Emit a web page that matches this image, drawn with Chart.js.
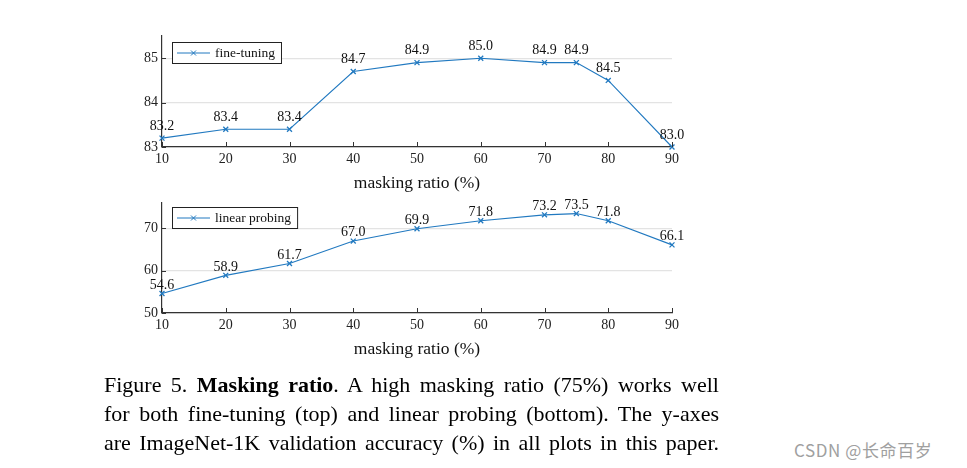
<!DOCTYPE html>
<html>
<head>
<meta charset="utf-8">
<script src="https://cdn.jsdelivr.net/npm/chart.js@4"></script>
<style>
  body { margin: 0; background: #fff; width: 967px; height: 468px; position: relative; overflow: hidden; }
  .box { position: absolute; }
  #caption {
    position: absolute; left: 104px; top: 370px; width: 615px;
    font-family: 'Liberation Serif', 'Times New Roman', serif; font-size: 22px; line-height: 29px;
    color: #000;
  }
  #caption span { display: block; text-align: justify; text-align-last: justify; }
  #mark {
    position: absolute; left: 794px; top: 437px;
    font-family: 'Noto Sans CJK SC', 'Noto Sans', sans-serif; font-size: 17px; letter-spacing: 0.6px; color: #a0a0a0;
  }
</style>
</head>
<body>
<div class="box" style="left:100px;top:20px;width:600px;height:180px"><canvas id="top"></canvas></div>
<div class="box" style="left:100px;top:190px;width:600px;height:175px"><canvas id="bottom"></canvas></div>
<div id="caption"><span>Figure 5. <b>Masking ratio</b>. A high masking ratio (75%) works well</span><span>for both fine-tuning (top) and linear probing (bottom). The y-axes</span><span>are ImageNet-1K validation accuracy (%) in all plots in this paper.</span></div>
<div id="mark">CSDN @长命百岁</div>
<script>
// masking ratio (%)
const ratios = [10, 20, 30, 40, 50, 60, 70, 75, 80, 90];
const fineTuning = [83.2, 83.4, 83.4, 84.7, 84.9, 85.0, 84.9, 84.9, 84.5, 83.0];
const linearProbing = [54.6, 58.9, 61.7, 67.0, 69.9, 71.8, 73.2, 73.5, 71.8, 66.1];

const xTicks = [10, 20, 30, 40, 50, 60, 70, 80, 90];
const yTicksTop = [83, 84, 85];
const yTicksBottom = [50, 60, 70];

const blue = '#2179c0';
const serif = "'Liberation Serif', 'Times New Roman', serif";

// value labels above each point
const valueLabels = {
  id: 'valueLabels',
  afterDatasetsDraw(chart, args, opts) {
    const ctx = chart.ctx;
    const ds = chart.data.datasets[0];
    const meta = chart.getDatasetMeta(0);
    ctx.save();
    ctx.font = '14px ' + serif;
    ctx.fillStyle = '#111';
    ctx.textAlign = 'center';
    ctx.textBaseline = 'middle';
    meta.data.forEach((pt, i) => {
      ctx.fillText(ds.data[i].y.toFixed(1), pt.x, pt.y - opts.offset);
    });
    ctx.restore();
  }
};

// pgfplots-ish inward ticks
const innerTicks = {
  id: 'innerTicks',
  afterDatasetsDraw(chart) {
    const { ctx, chartArea, scales } = chart;
    ctx.save();
    ctx.strokeStyle = '#333';
    ctx.lineWidth = 1;
    ctx.beginPath();
    xTicks.forEach(v => {
      const px = Math.round(scales.x.getPixelForValue(v)) + 0.5;
      ctx.moveTo(px, chartArea.bottom);
      ctx.lineTo(px, chartArea.bottom - 5);
    });
    scales.y.ticks.forEach(t => {
      const py = Math.round(scales.y.getPixelForValue(t.value)) + 0.5;
      ctx.moveTo(chartArea.left, py);
      ctx.lineTo(chartArea.left + 4, py);
    });
    ctx.stroke();
    ctx.restore();
  }
};

// boxed legend inside plot, top-left
const boxLegend = {
  id: 'boxLegend',
  afterDraw(chart, args, opts) {
    const { ctx, chartArea } = chart;
    const ds = chart.data.datasets[0];
    ctx.save();
    ctx.font = '13.5px ' + serif;
    const tw = ctx.measureText(ds.label).width;
    const x = chartArea.left + 10, y = chartArea.top + opts.top;
    const w = 43 + tw + 6, h = 21;
    ctx.fillStyle = '#fff';
    ctx.fillRect(x, y, w, h);
    ctx.strokeStyle = '#222';
    ctx.lineWidth = 1;
    ctx.strokeRect(Math.round(x) + 0.5, Math.round(y) + 0.5, w, h);
    const cy = y + h / 2 + 0.5;
    ctx.strokeStyle = blue;
    ctx.beginPath();
    ctx.moveTo(x + 5, cy);
    ctx.lineTo(x + 38, cy);
    ctx.moveTo(x + 19, cy - 2.5); ctx.lineTo(x + 24, cy + 2.5);
    ctx.moveTo(x + 24, cy - 2.5); ctx.lineTo(x + 19, cy + 2.5);
    ctx.stroke();
    ctx.fillStyle = '#111';
    ctx.textBaseline = 'middle';
    ctx.fillText(ds.label, x + 43, cy);
    ctx.restore();
  }
};

function buildChart(id, label, values, yMin, yMax, yTicks, pad, xHeight, labelOffset, legendTop) {
  const points = ratios.map((r, i) => ({ x: r, y: values[i] }));
  return new Chart(document.getElementById(id), {
    type: 'line',
    data: {
      datasets: [{
        label: label,
        data: points,
        borderColor: blue,
        borderWidth: 1.1,
        pointStyle: 'crossRot',
        pointRadius: 3.5,
        pointBorderColor: blue,
        pointBorderWidth: 1.3,
        fill: false,
        tension: 0,
        clip: false,
      }],
    },
    options: {
      responsive: true,
      maintainAspectRatio: false,
      animation: false,
      layout: { padding: { top: pad, right: 28, left: 0, bottom: 0 } },
      plugins: {
        legend: { display: false },
        tooltip: { enabled: false },
        valueLabels: { offset: labelOffset },
        boxLegend: { top: legendTop },
      },
      scales: {
        x: {
          type: 'linear',
          min: 10,
          max: 90,
          afterBuildTicks: s => { s.ticks = xTicks.map(v => ({ value: v })); },
          afterFit: s => { s.height = xHeight.h; },
          grid: { display: false, drawTicks: false },
          border: { display: true, color: '#333', width: 1.2 },
          ticks: { font: { family: serif, size: 14 }, color: '#222', padding: 4, maxRotation: 0 },
          title: {
            display: true,
            text: 'masking ratio (%)',
            font: { family: serif, size: 17.5 },
            color: '#111',
            padding: { top: 0, bottom: xHeight.title },
          },
        },
        y: {
          min: yMin,
          max: yMax,
          afterBuildTicks: s => { s.ticks = yTicks.map(v => ({ value: v })); },
          afterFit: s => { s.width = 62; },
          grid: { color: '#e3e3e3', lineWidth: 1.2, drawTicks: false },
          border: { display: true, color: '#333', width: 1.2 },
          ticks: { font: { family: serif, size: 14 }, color: '#222', padding: 4 },
        },
      },
    },
    plugins: [innerTicks, valueLabels, boxLegend],
  });
}

buildChart('top', 'fine-tuning', fineTuning, 83, 85.5, yTicksTop, 16, { h: 53, title: 6.5 }, 12, 6);
buildChart('bottom', 'linear probing', linearProbing, 50, 76, yTicksBottom, 13, { h: 52, title: 5.5 }, 8.5, 4);
</script>
</body>
</html>
